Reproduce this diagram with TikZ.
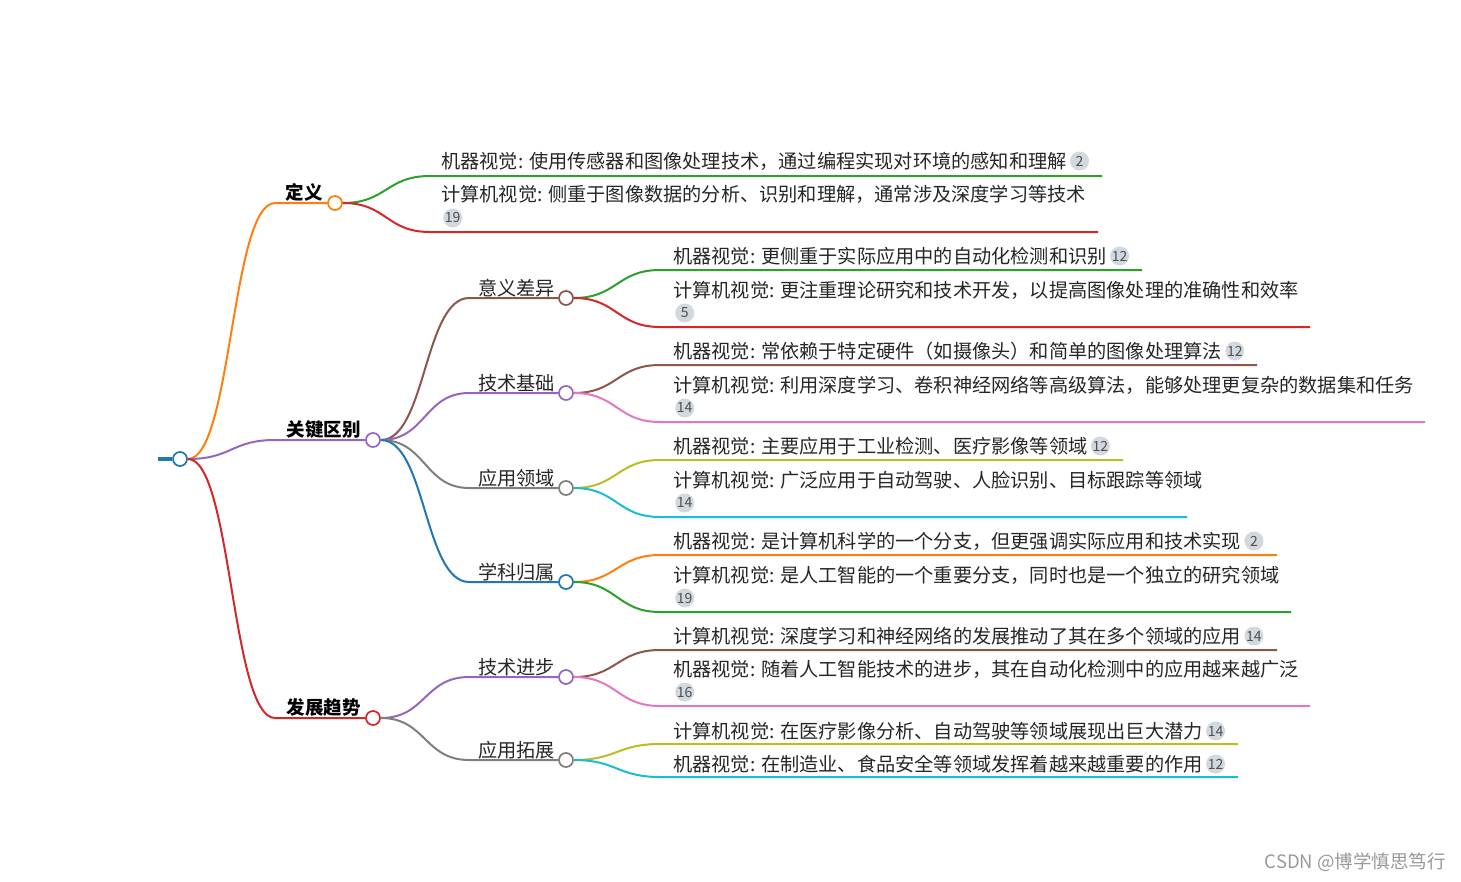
\documentclass[tikz,border=0pt]{standalone}
\usepackage{fontspec}
\setmainfont{Noto Sans CJK SC}
\usetikzlibrary{positioning,calc}

\definecolor{cblue}{HTML}{1F77B4}
\definecolor{corange}{HTML}{FF7F0E}
\definecolor{cgreen}{HTML}{2CA02C}
\definecolor{cred}{HTML}{D62728}
\definecolor{cpurple}{HTML}{9467BD}
\definecolor{cbrown}{HTML}{8C564B}
\definecolor{cpink}{HTML}{E377C2}
\definecolor{cgrey}{HTML}{7F7F7F}
\definecolor{colive}{HTML}{BCBD22}
\definecolor{ccyan}{HTML}{17BECF}
\definecolor{badgegray}{HTML}{D3D7DE}
\definecolor{badgetext}{HTML}{4A4F58}

\begin{document}
\begin{tikzpicture}[
    x=1pt, y=-1pt,
    dot/.style={draw, circle, fill=white, line width=1.7pt, minimum size=14pt, inner sep=0pt},
    branch/.style={line width=2pt},
    l1text/.style={font=\fontsize{18.5}{22}\selectfont\bfseries, inner sep=0pt, anchor=south east},
    l2text/.style={font=\fontsize{19.2}{23}\selectfont, inner sep=0pt, anchor=south east, text=black!85},
    leaf/.style={font=\fontsize{19.2}{23}\selectfont, inner sep=0pt, anchor=west, text=black!85},
    badge/.style={circle, fill=badgegray, text=badgetext, font=\fontsize{14}{14}\selectfont, inner sep=0pt, minimum size=19pt}
]
    \useasboundingbox (0,0) rectangle (1461,881);

    % Draw nodes
    \node (root) [dot, draw=cblue] at (180,459) {};
    \node (dy) [dot, draw=corange] at (335,203) {};
    \node (gj) [dot, draw=cpurple] at (373,440) {};
    \node (fz) [dot, draw=cred] at (373,718) {};
    \node (yy) [dot, draw=cbrown] at (566,298) {};
    \node (jc) [dot, draw=cpurple] at (566,393) {};
    \node (ly) [dot, draw=cgrey] at (566,488) {};
    \node (xk) [dot, draw=cblue] at (566,582) {};
    \node (jb) [dot, draw=cpurple] at (566,677) {};
    \node (tz) [dot, draw=cgrey] at (566,760) {};

    \node [l1text] at ([xshift=-4pt,yshift=1pt]dy.west) {定义};
    \node [l1text] at ([xshift=-4pt,yshift=1pt]gj.west) {关键区别};
    \node [l1text] at ([xshift=-4pt,yshift=1pt]fz.west) {发展趋势};
    \node [l2text] at ([xshift=-3pt,yshift=1pt]yy.west) {意义差异};
    \node [l2text] at ([xshift=-3pt,yshift=1pt]jc.west) {技术基础};
    \node [l2text] at ([xshift=-3pt,yshift=1pt]ly.west) {应用领域};
    \node [l2text] at ([xshift=-3pt,yshift=1pt]xk.west) {学科归属};
    \node [l2text] at ([xshift=-3pt,yshift=1pt]jb.west) {技术进步};
    \node [l2text] at ([xshift=-3pt,yshift=1pt]tz.west) {应用拓展};

    % leaf line ends and start columns
    \coordinate (dx) at (430,0);
    \coordinate (dt) at (441,0);
    \coordinate (lx) at (660,0);
    \coordinate (lt) at (673,0);
    \coordinate (d1) at (1102,176);
    \coordinate (d2) at (1098,232);
    \coordinate (a1) at (1142,270);
    \coordinate (a2) at (1310,327);
    \coordinate (b1) at (1257,365);
    \coordinate (b2) at (1425,422);
    \coordinate (c1) at (1123,460);
    \coordinate (c2) at (1187,517);
    \coordinate (e1) at (1277,555);
    \coordinate (e2) at (1291,612);
    \coordinate (f1) at (1277,650);
    \coordinate (f2) at (1310,706);
    \coordinate (g1) at (1238,744);
    \coordinate (g2) at (1238,777);
    \coordinate (stub) at (158,459);

    % leaf texts
    \node (td1) [leaf] at ([yshift=15pt]d1 -| dt) {机器视觉: 使用传感器和图像处理技术，通过编程实现对环境的感知和理解};
    \node [badge, right=3pt of td1] {2};
    \node [leaf] at ([yshift=38pt]d2 -| dt) {计算机视觉: 侧重于图像数据的分析、识别和理解，通常涉及深度学习等技术};
    \node [badge, anchor=west] at ([xshift=2pt,yshift=14pt]d2 -| dt) {19};

    \node (ta1) [leaf] at ([yshift=14pt]a1 -| lt) {机器视觉: 更侧重于实际应用中的自动化检测和识别};
    \node [badge, right=3pt of ta1] {12};
    \node [leaf] at ([yshift=37pt]a2 -| lt) {计算机视觉: 更注重理论研究和技术开发，以提高图像处理的准确性和效率};
    \node [badge, anchor=west] at ([xshift=2pt,yshift=14pt]a2 -| lt) {5};

    \node (tb1) [leaf] at ([yshift=14pt]b1 -| lt) {机器视觉: 常依赖于特定硬件（如摄像头）和简单的图像处理算法};
    \node [badge, right=3pt of tb1] {12};
    \node [leaf] at ([yshift=37pt]b2 -| lt) {计算机视觉: 利用深度学习、卷积神经网络等高级算法，能够处理更复杂的数据集和任务};
    \node [badge, anchor=west] at ([xshift=2pt,yshift=14pt]b2 -| lt) {14};

    \node (tc1) [leaf] at ([yshift=14pt]c1 -| lt) {机器视觉: 主要应用于工业检测、医疗影像等领域};
    \node [badge, right=3pt of tc1] {12};
    \node [leaf] at ([yshift=37pt]c2 -| lt) {计算机视觉: 广泛应用于自动驾驶、人脸识别、目标跟踪等领域};
    \node [badge, anchor=west] at ([xshift=2pt,yshift=14pt]c2 -| lt) {14};

    \node (te1) [leaf] at ([yshift=14pt]e1 -| lt) {机器视觉: 是计算机科学的一个分支，但更强调实际应用和技术实现};
    \node [badge, right=3pt of te1] {2};
    \node [leaf] at ([yshift=37pt]e2 -| lt) {计算机视觉: 是人工智能的一个重要分支，同时也是一个独立的研究领域};
    \node [badge, anchor=west] at ([xshift=2pt,yshift=14pt]e2 -| lt) {19};

    \node (tf1) [leaf] at ([yshift=14pt]f1 -| lt) {计算机视觉: 深度学习和神经网络的发展推动了其在多个领域的应用};
    \node [badge, right=3pt of tf1] {14};
    \node [leaf] at ([yshift=37pt]f2 -| lt) {机器视觉: 随着人工智能技术的进步，其在自动化检测中的应用越来越广泛};
    \node [badge, anchor=west] at ([xshift=2pt,yshift=14pt]f2 -| lt) {16};

    \node (tg1) [leaf] at ([yshift=13pt]g1 -| lt) {计算机视觉: 在医疗影像分析、自动驾驶等领域展现出巨大潜力};
    \node [badge, right=3pt of tg1] {14};
    \node (tg2) [leaf] at ([yshift=13pt]g2 -| lt) {机器视觉: 在制造业、食品安全等领域发挥着越来越重要的作用};
    \node [badge, right=3pt of tg2] {12};

    \node (mark) [font=\fontsize{18.5}{22}\selectfont, text=black!40, anchor=east, inner sep=0pt] at (1446,862) {CSDN @博学慎思笃行};

    % Draw connections
    \draw [cblue, line width=4.5pt] (stub) -- (root.west);
    \draw [branch, corange] (root.east) .. controls +(44,0) and +(-44,0) .. ([xshift=-52pt]dy.west) -- (dy.west);
    \draw [branch, cpurple] (root.east) .. controls +(44,0) and +(-44,0) .. ([xshift=-90pt]gj.west) -- (gj.west);
    \draw [branch, cred] (root.east) .. controls +(44,0) and +(-44,0) .. ([xshift=-90pt]fz.west) -- (fz.west);

    \draw [branch, cbrown] (gj.east) .. controls +(45,0) and +(-45,0) .. ([xshift=-89pt]yy.west) -- (yy.west);
    \draw [branch, cpurple] (gj.east) .. controls +(45,0) and +(-45,0) .. ([xshift=-89pt]jc.west) -- (jc.west);
    \draw [branch, cgrey] (gj.east) .. controls +(45,0) and +(-45,0) .. ([xshift=-89pt]ly.west) -- (ly.west);
    \draw [branch, cblue] (gj.east) .. controls +(45,0) and +(-45,0) .. ([xshift=-89pt]xk.west) -- (xk.west);
    \draw [branch, cpurple] (fz.east) .. controls +(45,0) and +(-45,0) .. ([xshift=-89pt]jb.west) -- (jb.west);
    \draw [branch, cgrey] (fz.east) .. controls +(45,0) and +(-45,0) .. ([xshift=-89pt]tz.west) -- (tz.west);

    \draw [branch, cgreen] (dy.east) .. controls +(44,0) and +(-44,0) .. (d1 -| dx) -- (d1);
    \draw [branch, cred] (dy.east) .. controls +(44,0) and +(-44,0) .. (d2 -| dx) -- (d2);
    \draw [branch, cgreen] (yy.east) .. controls +(43,0) and +(-43,0) .. (a1 -| lx) -- (a1);
    \draw [branch, cred] (yy.east) .. controls +(43,0) and +(-43,0) .. (a2 -| lx) -- (a2);
    \draw [branch, cbrown] (jc.east) .. controls +(43,0) and +(-43,0) .. (b1 -| lx) -- (b1);
    \draw [branch, cpink] (jc.east) .. controls +(43,0) and +(-43,0) .. (b2 -| lx) -- (b2);
    \draw [branch, colive] (ly.east) .. controls +(43,0) and +(-43,0) .. (c1 -| lx) -- (c1);
    \draw [branch, ccyan] (ly.east) .. controls +(43,0) and +(-43,0) .. (c2 -| lx) -- (c2);
    \draw [branch, corange] (xk.east) .. controls +(43,0) and +(-43,0) .. (e1 -| lx) -- (e1);
    \draw [branch, cgreen] (xk.east) .. controls +(43,0) and +(-43,0) .. (e2 -| lx) -- (e2);
    \draw [branch, cbrown] (jb.east) .. controls +(43,0) and +(-43,0) .. (f1 -| lx) -- (f1);
    \draw [branch, cpink] (jb.east) .. controls +(43,0) and +(-43,0) .. (f2 -| lx) -- (f2);
    \draw [branch, colive] (tz.east) .. controls +(43,0) and +(-43,0) .. (g1 -| lx) -- (g1);
    \draw [branch, ccyan] (tz.east) .. controls +(43,0) and +(-43,0) .. (g2 -| lx) -- (g2);

\end{tikzpicture}
\end{document}
